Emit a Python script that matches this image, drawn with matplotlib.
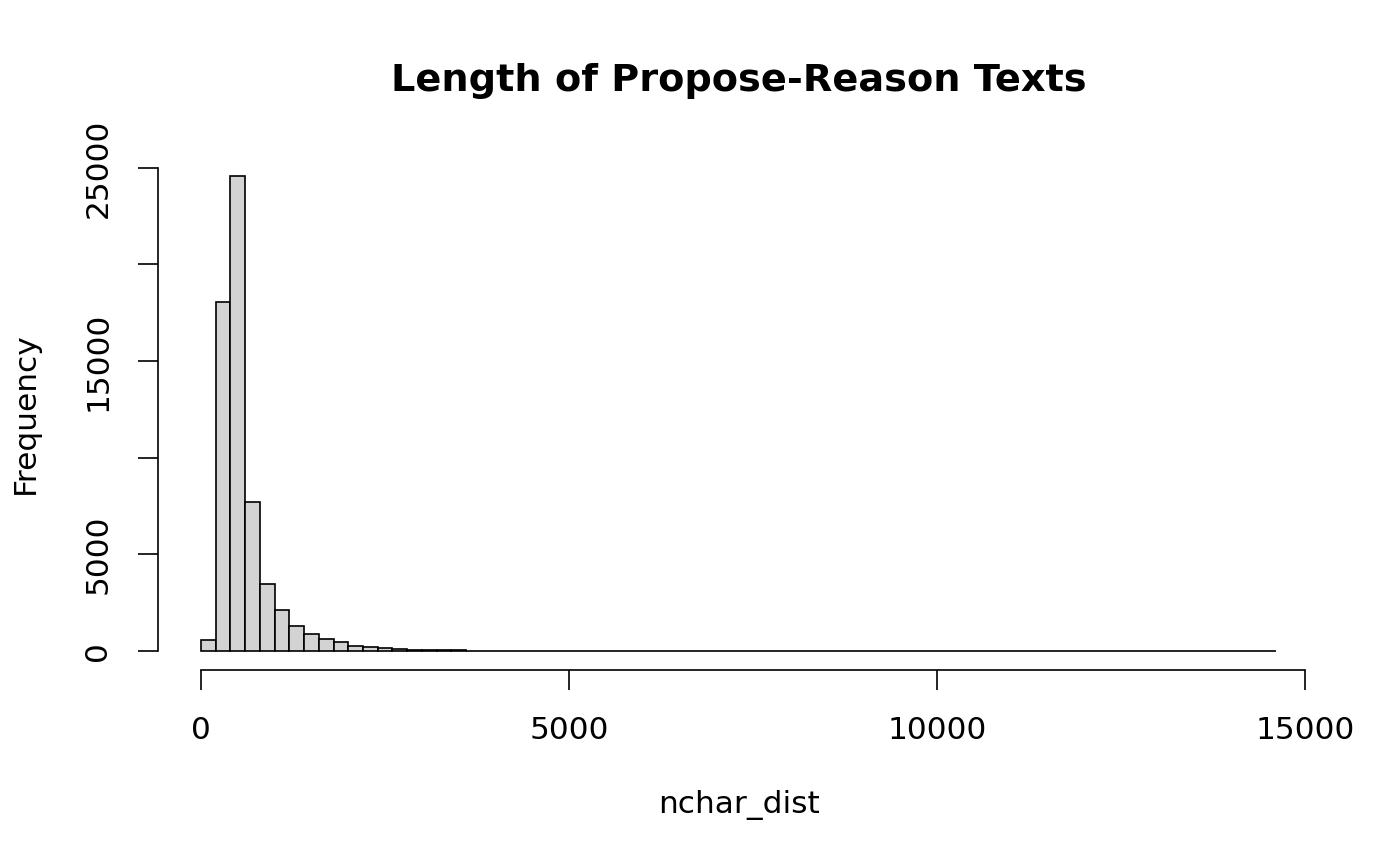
import matplotlib
matplotlib.use("Agg")
import matplotlib.pyplot as plt
import numpy as np

# bin edges (width 200) and counts
bin_edges = np.arange(0, 14601, 200)
counts = [570, 18060, 24590, 7710, 3470, 2120, 1310, 900, 600, 450,
          280, 190, 140, 100, 70, 50, 40, 30, 25, 20,
          15, 12, 10, 8, 7, 6, 5, 4, 4, 3,
          3, 2, 2, 2, 2, 1, 2, 1, 1, 1,
          1, 1, 1, 0, 1, 1, 0, 1, 1, 0,
          1, 0, 1, 0, 0, 1, 0, 0, 1, 0,
          0, 1, 0, 0, 0, 1, 0, 0, 0, 0,
          0, 0, 1]
yticks = [0, 5000, 10000, 15000, 20000, 25000]
ylabels = ["0", "5000", "", "15000", "", "25000"]
xticks = [0, 5000, 10000, 15000]

plt.rcParams['font.family'] = 'DejaVu Sans'
fig = plt.figure(figsize=(14, 8.66), dpi=100)
ax = fig.add_axes([0.1129, 0.2263, 0.8289, 0.5927])

ax.bar(bin_edges[:-1], counts, width=200, align='edge',
       color='#D3D3D3', edgecolor='black', linewidth=1.2)

xmin, xmax = 0, 14600
ymax = max(counts)
ax.set_xlim(xmin - 0.04 * (xmax - xmin), xmax + 0.04 * (xmax - xmin))
ax.set_ylim(-0.04 * ymax, ymax * 1.04)

for s in ['top', 'right']:
    ax.spines[s].set_visible(False)
ax.spines['left'].set_bounds(0, 25000)
ax.spines['bottom'].set_bounds(0, 15000)
ax.spines['left'].set_linewidth(1.2)
ax.spines['bottom'].set_linewidth(1.2)

ax.set_yticks(yticks)
ax.set_yticklabels(ylabels, rotation=90, va='center')
ax.set_xticks(xticks)
ax.set_xticklabels([str(t) for t in xticks])
ax.tick_params(axis='both', length=14.4, width=1.2, labelsize=22.5, pad=18.5)

fig.text(0.5279, 0.907, "Length of Propose-Reason Texts", ha='center', va='center',
         fontsize=27.5, fontweight='bold')
fig.text(0.5279, 0.07, "nchar_dist", ha='center', va='center', fontsize=22.5)
fig.text(0.018, 0.523, "Frequency", ha='center', va='center', rotation=90, fontsize=22.5)

fig.savefig("out.png", dpi=100)
